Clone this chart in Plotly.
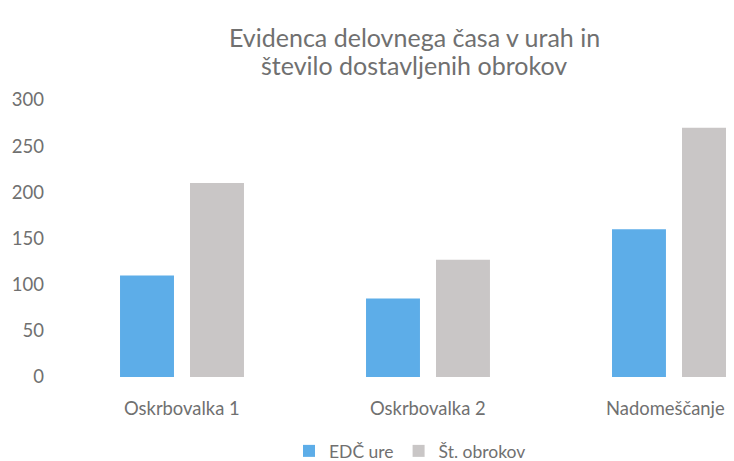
import plotly.graph_objects as go

categories = ["Oskrbovalka 1", "Oskrbovalka 2", "Nadomeščanje"]
edc_ure = [110, 85, 160]
st_obrokov = [210, 127, 270]
y_ticks = [0, 50, 100, 150, 200, 250, 300]
title_lines = ["Evidenca delovnega časa v urah in", "število dostavljenih obrokov"]

FONT = "Lato"
TXT = "#707070"

W, H = 726, 453
PLOT_W, PLOT_H = 675, 277

def py(screen_y):
    return (377 - screen_y) / PLOT_H

fig = go.Figure()
fig.add_trace(go.Bar(name="EDČ ure", x=categories, y=edc_ure,
                     marker=dict(color="#5dade8", line=dict(width=0))))
fig.add_trace(go.Bar(name="Št. obrokov", x=categories, y=st_obrokov,
                     marker=dict(color="#c9c6c6", line=dict(width=0))))

annotations = [
    dict(text=title_lines[0], xref="paper", yref="paper",
         x=(414-59)/PLOT_W, y=py(37), xanchor="center", yanchor="middle",
         showarrow=False, font=dict(size=25, color=TXT, family=FONT)),
    dict(text=title_lines[1], xref="paper", yref="paper",
         x=(414-59)/PLOT_W, y=py(65), xanchor="center", yanchor="middle",
         showarrow=False, font=dict(size=25, color=TXT, family=FONT)),
]
for i, cat in enumerate(categories):
    annotations.append(dict(text=cat, xref="x", yref="paper", x=cat, y=py(408),
                            xanchor="center", yanchor="middle", showarrow=False,
                            xshift=(-8 if i == len(categories) - 1 else 0),
                            font=dict(size=18.4, color=TXT, family=FONT)))

fig.update_layout(
    width=W, height=H,
    margin=dict(l=51, r=0, t=92, b=84),
    paper_bgcolor="white", plot_bgcolor="white",
    barmode="group", bargap=0.431, bargroupgap=0.229,
    font=dict(family=FONT, color=TXT, size=19),
    showlegend=True,
    legend=dict(orientation="h", xref="container", yref="container",
                x=(410-8)/W, xanchor="center", y=1-(451-8)/H, yanchor="middle",
                font=dict(size=17.5, color=TXT),
                traceorder="normal"),
    annotations=annotations,
)
fig.update_xaxes(range=[-0.5, 2.244], showgrid=False, showline=False, zeroline=False,
                 ticks="", showticklabels=False)
fig.update_yaxes(range=[0, 300], tickvals=y_ticks, showgrid=False, showline=False,
                 zeroline=False, ticks="", tickfont=dict(size=18.5), ticklabelstandoff=14)

fig.write_html("out.html")
